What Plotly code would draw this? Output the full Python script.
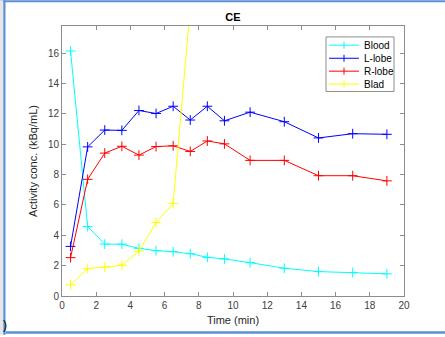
import plotly.graph_objects as go

# Sampling times (min)
time_min = [0.5, 1.5, 2.5, 3.5, 4.5, 5.5, 6.5, 7.5, 8.5, 9.5, 11, 13, 15, 17, 19]

# Activity concentration (kBq/mL) per region
blood = [16.15, 4.58, 3.42, 3.42, 3.14, 2.99, 2.92, 2.79, 2.55, 2.44, 2.20, 1.83, 1.61, 1.55, 1.46]
l_lobe = [3.27, 9.83, 10.94, 10.92, 12.23, 12.03, 12.51, 11.60, 12.51, 11.55, 12.12, 11.49, 10.42, 10.70, 10.66]
r_lobe = [2.53, 7.69, 9.42, 9.87, 9.29, 9.85, 9.90, 9.53, 10.22, 10.03, 8.94, 8.94, 7.93, 7.93, 7.59]
blad_time = [0.5, 1.5, 2.5, 3.5, 4.5, 5.5, 6.5, 7.5]
blad = [0.74, 1.81, 1.90, 2.03, 2.96, 4.84, 6.10, 19.0]

series_names = ["Blood", "L-lobe", "R-lobe", "Blad"]
series_colors = ["#00FFFF", "#0000FF", "#FF0000", "#FFFF00"]
series = list(zip(series_names,
                  [time_min, time_min, time_min, blad_time],
                  [blood, l_lobe, r_lobe, blad],
                  series_colors))

FONT = "Liberation Sans, Arial, sans-serif"
W, H = 445, 337
ML, MR, MT, MB = 62, 41, 26, 39
PW, PH = W - ML - MR, H - MT - MB


def px_x(px):
    """Figure pixel column -> paper x."""
    return (px - ML) / PW


def px_y(py):
    """Figure pixel row -> paper y."""
    return (H - MB - py) / PH


fig = go.Figure()
for name, xs, ys, color in series:
    fig.add_trace(go.Scatter(
        x=xs, y=ys, name=name, mode="lines+markers",
        line=dict(color=color, width=1),
        marker=dict(symbol="cross-thin", size=7, line=dict(color=color, width=1)),
        showlegend=False,
    ))

axis_common = dict(
    showgrid=False, zeroline=False,
    showline=True, linecolor="#8c8c8c", linewidth=1, mirror="ticks",
    ticks="inside", ticklen=4, tickcolor="#8c8c8c",
    tickfont=dict(family=FONT, size=10, color="#404040"),
)

fig.update_layout(
    width=W, height=H,
    margin=dict(l=ML, r=MR, t=MT, b=MB),
    paper_bgcolor="white", plot_bgcolor="white",
    font=dict(family=FONT, color="#262626"),
    title=dict(text="<b>CE</b>", x=0.5, xanchor="center", y=0.95, yanchor="middle",
               xref="paper", font=dict(family=FONT, size=11, color="#000000")),
    xaxis=dict(range=[0, 20], tickvals=list(range(0, 21, 2)),
               title=dict(text="Time (min)", standoff=6,
                          font=dict(family=FONT, size=11, color="#262626")),
               **axis_common),
    yaxis=dict(range=[0, 17.8], tickvals=list(range(0, 17, 2)),
               title=dict(text="Activity conc. (kBq/mL)", standoff=8,
                          font=dict(family=FONT, size=11, color="#262626")),
               **axis_common),
    showlegend=False,
)

shapes = []

# Compact legend box with line + cross samples
shapes.append(dict(type="rect", xref="paper", yref="paper",
                   x0=px_x(326), x1=px_x(394), y0=px_y(92), y1=px_y(37),
                   fillcolor="white", line=dict(color="#8c8c8c", width=1), layer="above"))
legend_rows = [45.3, 58.5, 71.5, 84.5]
for (name, _, _, color), row in zip(series, legend_rows):
    shapes.append(dict(type="line", xref="paper", yref="paper",
                       x0=px_x(329), x1=px_x(359), y0=px_y(row), y1=px_y(row),
                       line=dict(color=color, width=1), layer="above"))
    shapes.append(dict(type="line", xref="paper", yref="paper",
                       x0=px_x(344), x1=px_x(344), y0=px_y(row - 3.5), y1=px_y(row + 3.5),
                       line=dict(color=color, width=1), layer="above"))
    fig.add_annotation(text=name, xref="paper", yref="paper",
                       x=px_x(362), y=px_y(row), xanchor="left", yanchor="middle",
                       showarrow=False, font=dict(family=FONT, size=10, color="#000000"))

# Window frame around the figure
frame_color = "#5b8fd6"
shapes += [
    dict(type="rect", xref="paper", yref="paper", x0=px_x(0), x1=px_x(W), y0=px_y(2), y1=px_y(0),
         fillcolor=frame_color, line=dict(width=0), layer="above"),
    dict(type="rect", xref="paper", yref="paper", x0=px_x(0), x1=px_x(3.3), y0=px_y(H), y1=px_y(0),
         fillcolor="#e6e6e6", line=dict(width=0), layer="above"),
    dict(type="rect", xref="paper", yref="paper", x0=px_x(3.3), x1=px_x(5.5), y0=px_y(H), y1=px_y(0),
         fillcolor=frame_color, line=dict(width=0), layer="above"),
    dict(type="rect", xref="paper", yref="paper", x0=px_x(5.5), x1=px_x(W), y0=px_y(336), y1=px_y(333.5),
         fillcolor=frame_color, line=dict(width=0), layer="above"),
]
fig.update_layout(shapes=shapes)

fig.add_annotation(text=")", xref="paper", yref="paper", x=px_x(1), y=px_y(327),
                   xanchor="left", yanchor="middle", showarrow=False,
                   font=dict(family=FONT, size=12, color="#000000"))

fig.write_html("out.html")
